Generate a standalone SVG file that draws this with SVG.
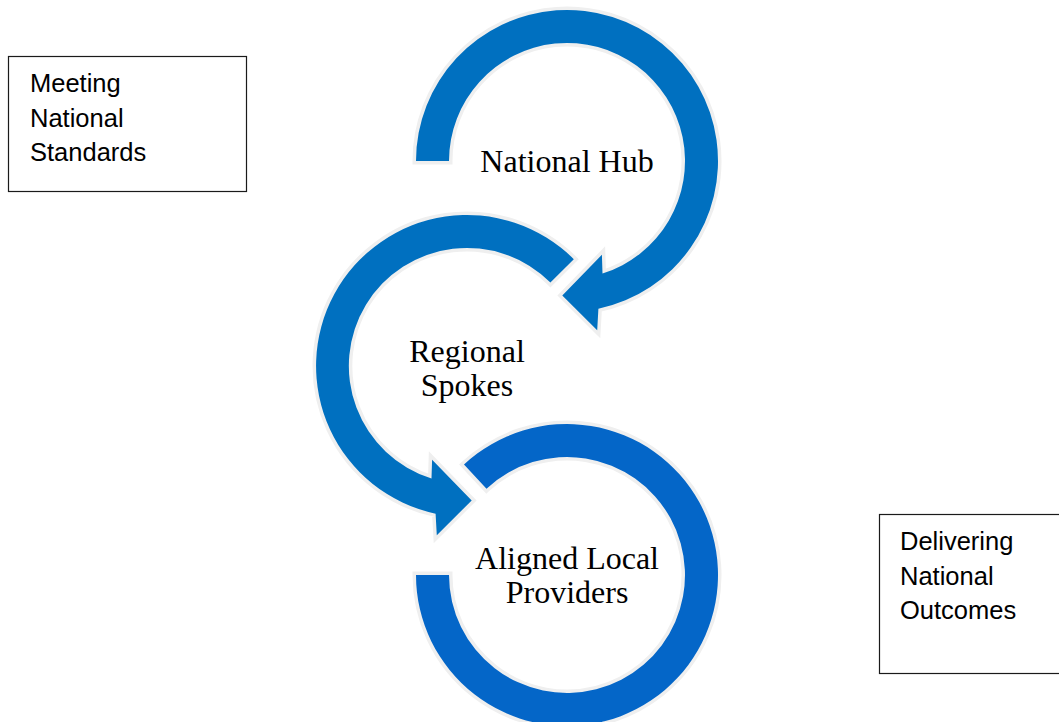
<svg xmlns="http://www.w3.org/2000/svg" width="1059" height="722" viewBox="0 0 1059 722">
  <style>
    .ring { stroke: #EFEFEF; stroke-width: 7; stroke-linejoin: miter; paint-order: stroke; }
    .blue { fill: #0070C0; }
    .blue2 { fill: #0466C8; }
    .label { font-family: "Liberation Serif", "Times New Roman", serif; font-size: 32px; fill: #000; text-anchor: middle; }
    .note { font-family: "Liberation Sans", Arial, sans-serif; font-size: 25.5px; fill: #000; }
    .box { fill: #fff; stroke: #1a1a1a; stroke-width: 1.2; }
  </style>

  <rect width="1059" height="722" fill="#fff"/>

  <!-- side note boxes -->
  <g id="note-standards">
    <rect class="box" x="8.5" y="56.5" width="238" height="135"/>
    <text class="note" x="30" y="92">Meeting</text>
    <text class="note" x="30" y="127">National</text>
    <text class="note" x="30" y="161">Standards</text>
  </g>

  <g id="note-outcomes">
    <rect class="box" x="879.5" y="514.5" width="200" height="159"/>
    <text class="note" x="900" y="550">Delivering</text>
    <text class="note" x="900" y="585">National</text>
    <text class="note" x="900" y="619">Outcomes</text>
  </g>

  <!-- circular arrow: top ring, clockwise, head at lower left -->
  <g id="node-hub">
    <path class="ring blue" transform="translate(567,161)"
      d="M -151,0 A151,151 0 1 1 31.4,147.7 L 30.2,169.3 L -4.7,134.4 L 34.9,93.7 L 35.5,112.5 A118,118 0 1 0 -118,0 Z"/>
    <text class="label" x="567" y="172">National Hub</text>
  </g>

  <!-- circular arrow: middle ring, counter-clockwise, head at lower right -->
  <g id="node-regional">
    <path class="ring blue" transform="translate(467,366) scale(-1,1)"
      d="M -106.8,-106.8 A151,151 0 1 1 31.4,147.7 L 30.2,169.3 L -4.7,134.4 L 34.9,93.7 L 35.5,112.5 A118,118 0 1 0 -83.4,-83.4 Z"/>
    <text class="label" x="467" y="362">Regional</text>
    <text class="label" x="467" y="396">Spokes</text>
  </g>

  <!-- open ring at the bottom -->
  <g id="node-local">
    <path class="ring blue2" transform="translate(567,575)"
      d="M -151,0 A151,151 0 1 0 -103.0,-110.4 L -80.5,-86.3 A118,118 0 1 1 -118,0 Z"/>
    <text class="label" x="567" y="569">Aligned Local</text>
    <text class="label" x="567" y="603">Providers</text>
  </g>
</svg>
